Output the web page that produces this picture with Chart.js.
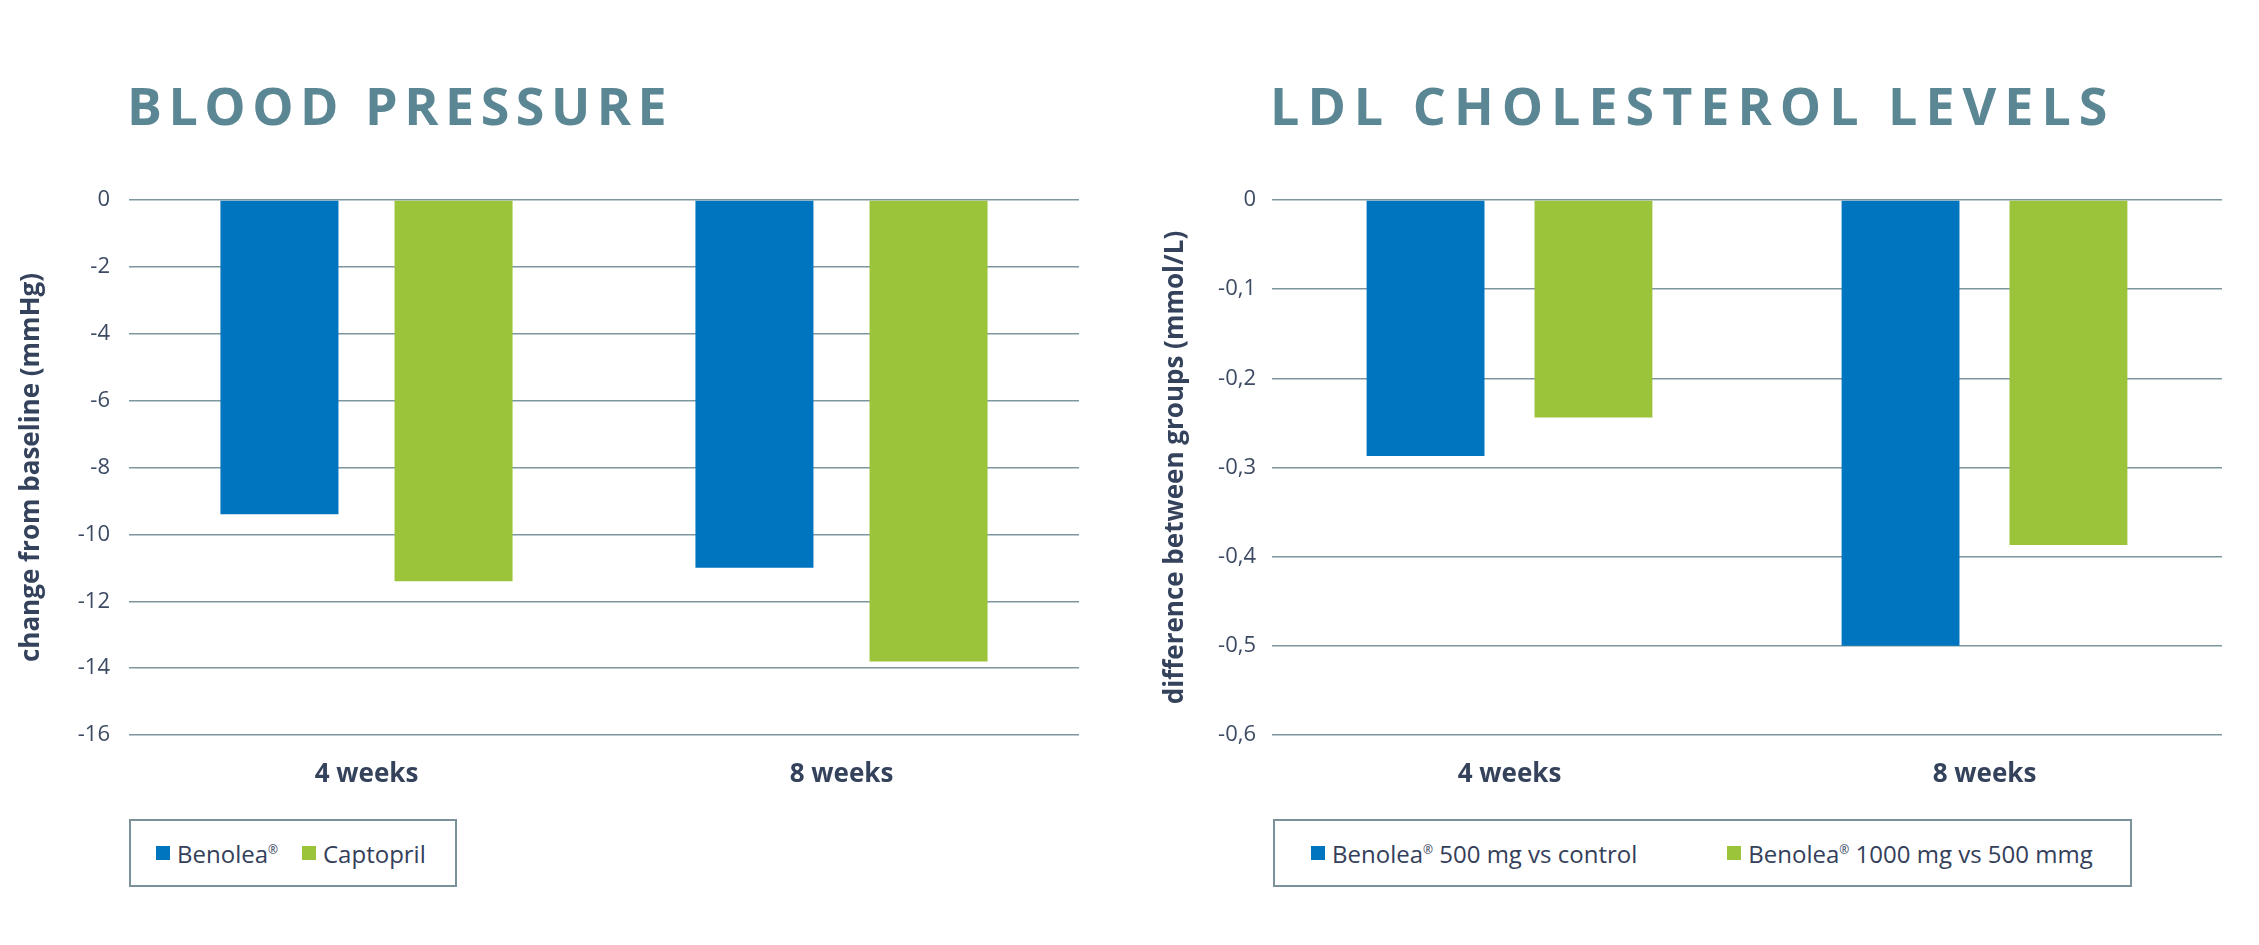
<!DOCTYPE html>
<html>
<head>
<meta charset="utf-8">
<script src="https://cdn.jsdelivr.net/npm/chart.js@4.4.0/dist/chart.umd.min.js"></script>
<style>
body { margin: 0; background: #fff; width: 2259px; height: 945px; position: relative; overflow: hidden; font-family: 'Open Sans', sans-serif; }
.title { position: absolute; top: 79px; font-size: 52px; line-height: 52px; font-weight: 700; letter-spacing: 6.5px; color: #5b8694; white-space: nowrap; }
canvas { position: absolute; }
.legend { position: absolute; top: 819px; height: 68px; box-sizing: border-box; border: 2px solid #7b929b; display: flex; align-items: center; font-size: 24px; color: #34405a; white-space: nowrap; }
.item { display: flex; align-items: center; }
.sw { width: 14px; height: 14px; margin-right: 7px; }
sup { font-size: 12px; line-height: 0; }
</style>
</head>
<body>
<div class="title" style="left:127px">BLOOD PRESSURE</div>
<div class="title" style="left:1270px;letter-spacing:8px">LDL CHOLESTEROL LEVELS</div>
<canvas id="bpChart" width="1110" height="635" style="left:0;top:160px"></canvas>
<canvas id="ldlChart" width="1129" height="635" style="left:1130px;top:160px"></canvas>
<div class="legend" id="bpLegend" style="left:129px;width:328px;padding-left:25px"></div>
<div class="legend" id="ldlLegend" style="left:1273px;width:859px;padding-left:36px"></div>
<script>
const categories = ['4 weeks', '8 weeks'];

const bpSeries = ['Benolea®', 'Captopril'];
const bpBenolea = [-9.4, -11.0];
const bpCaptopril = [-11.4, -13.8];
const bpTicks = [0, -2, -4, -6, -8, -10, -12, -14, -16];
const bpTickLabels = ['0', '-2', '-4', '-6', '-8', '-10', '-12', '-14', '-16'];

const ldlSeries = ['Benolea® 500 mg vs control', 'Benolea® 1000 mg vs 500 mmg'];
const ldl500 = [-0.287, -0.50];
const ldl1000 = [-0.244, -0.387];
const ldlTicks = [0, -0.1, -0.2, -0.3, -0.4, -0.5, -0.6];
const ldlTickLabels = ['0', '-0,1', '-0,2', '-0,3', '-0,4', '-0,5', '-0,6'];

const blue = '#0075bf';
const green = '#9bc43b';
const textColor = '#34425c';

function makeChart(id, cfg) {
    const ctx = document.getElementById(id).getContext('2d');
    return new Chart(ctx, {
        type: 'bar',
        data: {
            labels: categories,
            datasets: [
                { label: cfg.names[0], data: cfg.a, backgroundColor: blue },
                { label: cfg.names[1], data: cfg.b, backgroundColor: green }
            ]
        },
        options: {
            responsive: false,
            devicePixelRatio: 1,
            animation: false,
            categoryPercentage: cfg.catPct,
            barPercentage: cfg.barPct,
            layout: { padding: { top: 40, right: cfg.padRight, left: 0, bottom: 0 } },
            plugins: { legend: { display: false }, tooltip: { enabled: false } },
            scales: {
                x: {
                    grid: { display: false },
                    border: { display: false },
                    afterFit: s => { s.height = 60; },
                    ticks: { padding: 16, color: textColor, font: { family: 'Open Sans', size: 26, weight: 'bold' } }
                },
                y: {
                    min: cfg.ticks[cfg.ticks.length - 1],
                    max: 0,
                    afterBuildTicks: s => { s.ticks = cfg.ticks.map(v => ({ value: v })); },
                    afterFit: s => { s.width = cfg.axisWidth; },
                    grid: { color: '#7d959e', lineWidth: 1.5, drawTicks: false },
                    border: { display: false },
                    ticks: {
                        padding: cfg.tickPad,
                        color: '#3d4a63',
                        font: { family: 'Open Sans', size: 22 },
                        callback: (v, i) => cfg.tickLabels[i]
                    },
                    title: {
                        display: true,
                        text: cfg.yTitle,
                        color: textColor,
                        font: { family: 'Open Sans', size: 26, weight: 'bold' },
                        padding: { top: cfg.titlePad, bottom: 0 }
                    }
                }
            }
        }
    });
}

function makeLegend(id, names, gap) {
    const box = document.getElementById(id);
    [blue, green].forEach((c, i) => {
        const item = document.createElement('div');
        item.className = 'item';
        if (i > 0) item.style.marginLeft = gap + 'px';
        const sw = document.createElement('div');
        sw.className = 'sw';
        sw.style.background = c;
        const txt = document.createElement('span');
        txt.innerHTML = names[i].replace('®', '<sup>®</sup>');
        item.appendChild(sw);
        item.appendChild(txt);
        box.appendChild(item);
    });
}

makeChart('bpChart', {
    names: bpSeries, a: bpBenolea, b: bpCaptopril,
    ticks: bpTicks, tickLabels: bpTickLabels,
    yTitle: 'change from baseline (mmHg)',
    catPct: 0.733, barPct: 0.678,
    padRight: 31, axisWidth: 129, tickPad: 19, titlePad: 16
});

makeChart('ldlChart', {
    names: ldlSeries, a: ldl500, b: ldl1000,
    ticks: ldlTicks, tickLabels: ldlTickLabels,
    yTitle: 'difference between groups (mmol/L)',
    catPct: 0.707, barPct: 0.702,
    padRight: 37, axisWidth: 142, tickPad: 16, titlePad: 30
});

makeLegend('bpLegend', bpSeries, 24);
makeLegend('ldlLegend', ldlSeries, 90);
</script>
</body>
</html>
